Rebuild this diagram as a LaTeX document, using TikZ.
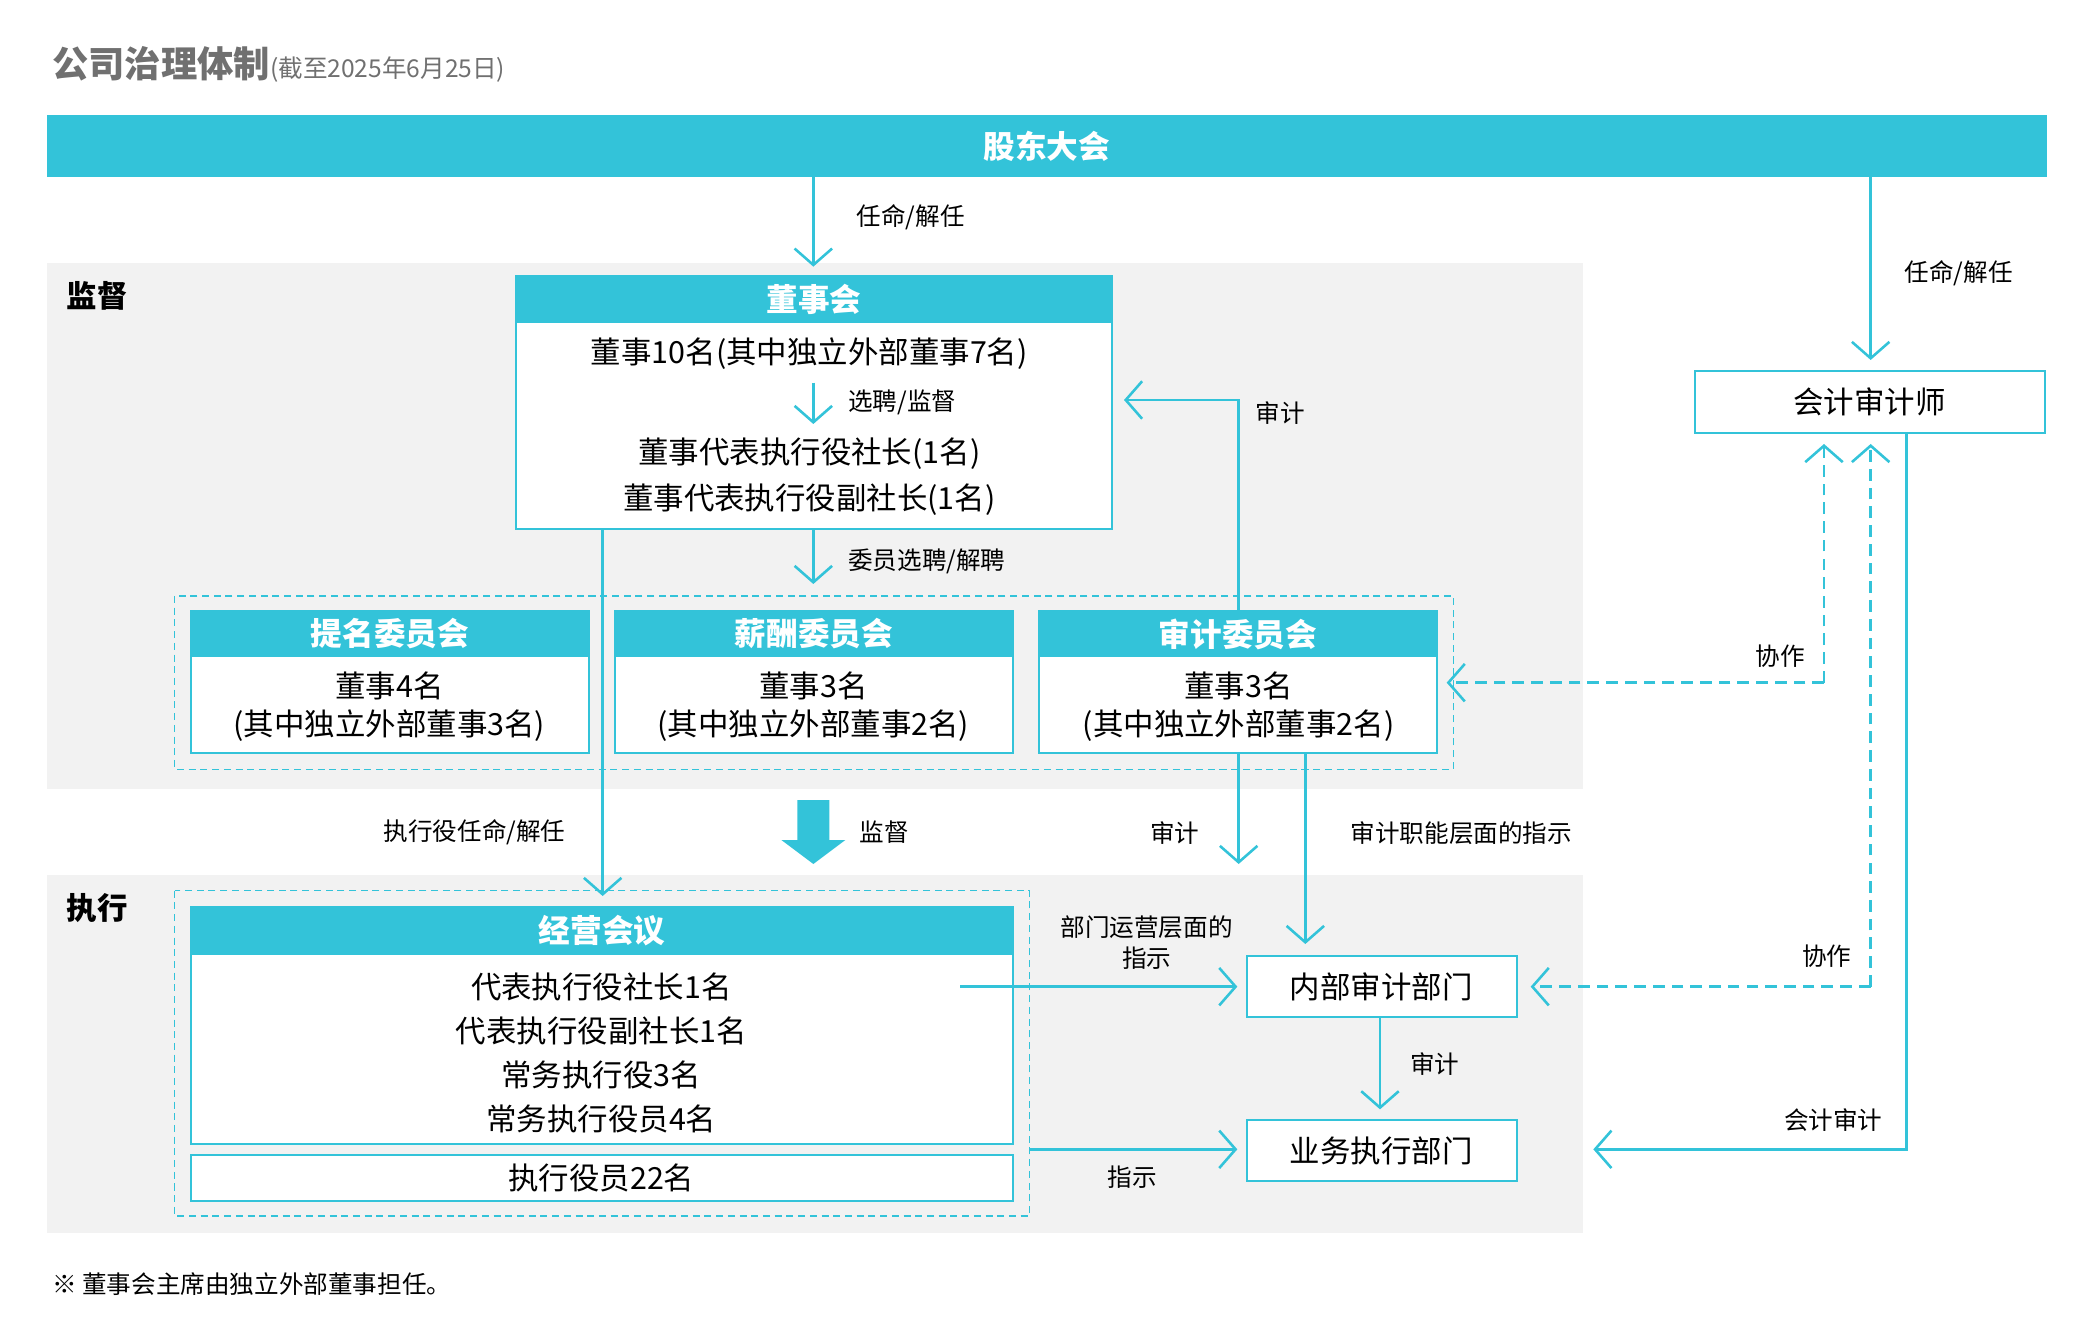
\documentclass[tikz,border=0pt]{standalone}
\usepackage{fontspec}
\setmainfont{Noto Sans CJK SC}
\usetikzlibrary{arrows.meta,calc}
\definecolor{teal}{HTML}{33C3D9}
\definecolor{bggray}{HTML}{F2F2F2}
\definecolor{titlegray}{HTML}{707070}
\tikzset{
	box/.style={draw=teal, line width=0.9pt, fill=white},
	head/.style={fill=teal, draw=teal, text=white, font=\fontsize{13.5}{14}\selectfont\bfseries},
	txt/.style={font=\fontsize{13}{16}\selectfont, align=center},
	lbl/.style={font=\fontsize{10.5}{13}\selectfont, align=center},
	link/.style={teal, line width=1.1pt, -{Straight Barb[length=7pt,width=16pt,line width=1.1pt]}},
	coop/.style={link, dashed, dash pattern=on 5pt off 3pt},
	frame/.style={teal, dashed, line width=0.6pt, dash pattern=on 3pt off 2pt}
}
% box with teal header: name, x1, y1, x2, y2, header bottom, header text
\newcommand{\headbox}[7]
{
	\draw[box] (#2,#3) rectangle (#4,#5);
	\fill[teal] (#2,#3) rectangle (#4,#6);
	\node[head, draw=none, fill=none] (#1) at ({(#2+#4)/2},{(#3+#6)/2}) {#7};
}
\begin{document}
\begin{tikzpicture}[x=0.02cm, y=-0.02cm]
	\useasboundingbox (0,0) rectangle (1560,993);
	% title
	\node[anchor=west, text=titlegray, font=\fontsize{15.5}{18}\selectfont\bfseries] (title) at (33,48)
		{公司治理体制{\fontsize{10.5}{12}\selectfont\mdseries (截至2025年6月25日)}};
	% shareholders
	\fill[teal] (35,86) rectangle (1535,133);
	\node[head, draw=none] (gsm) at (785,109.5) {股东大会};
	% background zones
	\fill[bggray] (35,197) rectangle (1187,592);
	\fill[bggray] (35,656) rectangle (1187,925);
	\node[font=\fontsize{13}{14}\selectfont\bfseries] (sup) at (73,222) {监督};
	\node[font=\fontsize{13}{14}\selectfont\bfseries] (exe) at (73,681) {执行};
	% board
	\headbox{board}{387}{207}{834}{397}{242}{董事会}
	\node[txt] (boardA) at (607,265) {董事10名(其中独立外部董事7名)};
	\node[txt] (boardB) at (607,340) {董事代表执行役社长(1名)};
	\node[txt] (boardC) at (607,375) {董事代表执行役副社长(1名)};
	\coordinate (selA) at (610,287);
	\coordinate (selB) at (610,318);
	\draw[link] (selA) -- (selB);
	\node[lbl, anchor=west] (selL) at (630,302) {选聘/监督};
	\draw[link] (610,133) -- (610,200);
	\node[lbl] (apptA) at (683,163) {任命/解任};
	% committees
	\draw[frame] (131,447) rectangle (1090,577);
	\headbox{nom}{143}{458}{442}{565}{493}{提名委员会}
	\headbox{pay}{461}{458}{760}{565}{493}{薪酬委员会}
	\headbox{aud}{779}{458}{1078}{565}{493}{审计委员会}
	\node[txt] (nomT) at (292,530) {董事4名\\(其中独立外部董事3名)};
	\node[txt] (payT) at (610,530) {董事3名\\(其中独立外部董事2名)};
	\node[txt] (audT) at (929,530) {董事3名\\(其中独立外部董事2名)};
	\draw[link] (610,397) -- (610,438);
	\node[lbl, anchor=west] (comL) at (630,421) {委员选聘/解聘};
	\draw[link] (929,458) -- (929,300) -- (843,300);
	\node[lbl] (audL) at (960,310) {审计};
	% accounting auditor
	\draw[box] (1271,278) rectangle (1534,325);
	\node[txt] (acc) at (1402,301.5) {会计审计师};
	\draw[link] (1403,133) -- (1403,270);
	\node[lbl] (apptB) at (1469,205) {任命/解任};
	\draw[coop] (1368,512) -- (1368,333);
	\draw[coop] (1368,512) -- (1085,512);
	\node[lbl] (coopA) at (1335,492) {协作};
	\draw[coop] (1403,740) -- (1403,333);
	\draw[coop] (1403,740) -- (1148,740);
	\node[lbl] (coopB) at (1370,717) {协作};
	\draw[link] (1430,325) -- (1430,862) -- (1195,862);
	\node[lbl] (accL) at (1375,840) {会计审计};
	% supervision to execution
	\draw[link] (452,397) -- (452,672);
	\node[lbl] (exL) at (356,624) {执行役任命/解任};
	\fill[teal] (598,600) -- (622,600) -- (622,630) -- (634,630) -- (610,648) -- (586,630) -- (598,630) -- cycle;
	\node[lbl] (supL) at (663,624) {监督};
	\draw[link] (929,565) -- (929,648);
	\node[lbl] (audD) at (881,625) {审计};
	\draw[link] (979,565) -- (979,708);
	\node[lbl] (audI) at (1096,625) {审计职能层面的指示};
	% management meeting
	\draw[frame] (131,668) rectangle (772,912);
	\headbox{mgmt}{143}{680}{760}{858}{716}{经营会议}
	\node[txt] (mA) at (451,740) {代表执行役社长1名};
	\node[txt] (mB) at (451,773) {代表执行役副社长1名};
	\node[txt] (mC) at (451,806) {常务执行役3名};
	\node[txt] (mD) at (451,839) {常务执行役员4名};
	\draw[box] (143,866) rectangle (760,901);
	\node[txt] (off) at (451,883.5) {执行役员22名};
	% departments
	\draw[box] (935,717) rectangle (1138,763);
	\node[txt] (ia) at (1036,740) {内部审计部门};
	\draw[box] (935,840) rectangle (1138,886);
	\node[txt] (ops) at (1036,863) {业务执行部门};
	\draw[link] (720,740) -- (928,740);
	\node[lbl] (dL) at (860,707) {部门运营层面的\\指示};
	\draw[link] (772,862) -- (928,862);
	\node[lbl] (iL) at (849,883) {指示};
	\draw[link] (1035,763) -- (1035,832);
	\node[lbl] (iaL) at (1076,798) {审计};
	% footnote
	\node[lbl, anchor=west] (note) at (33,963) {※ 董事会主席由独立外部董事担任。};
\end{tikzpicture}
\end{document}
